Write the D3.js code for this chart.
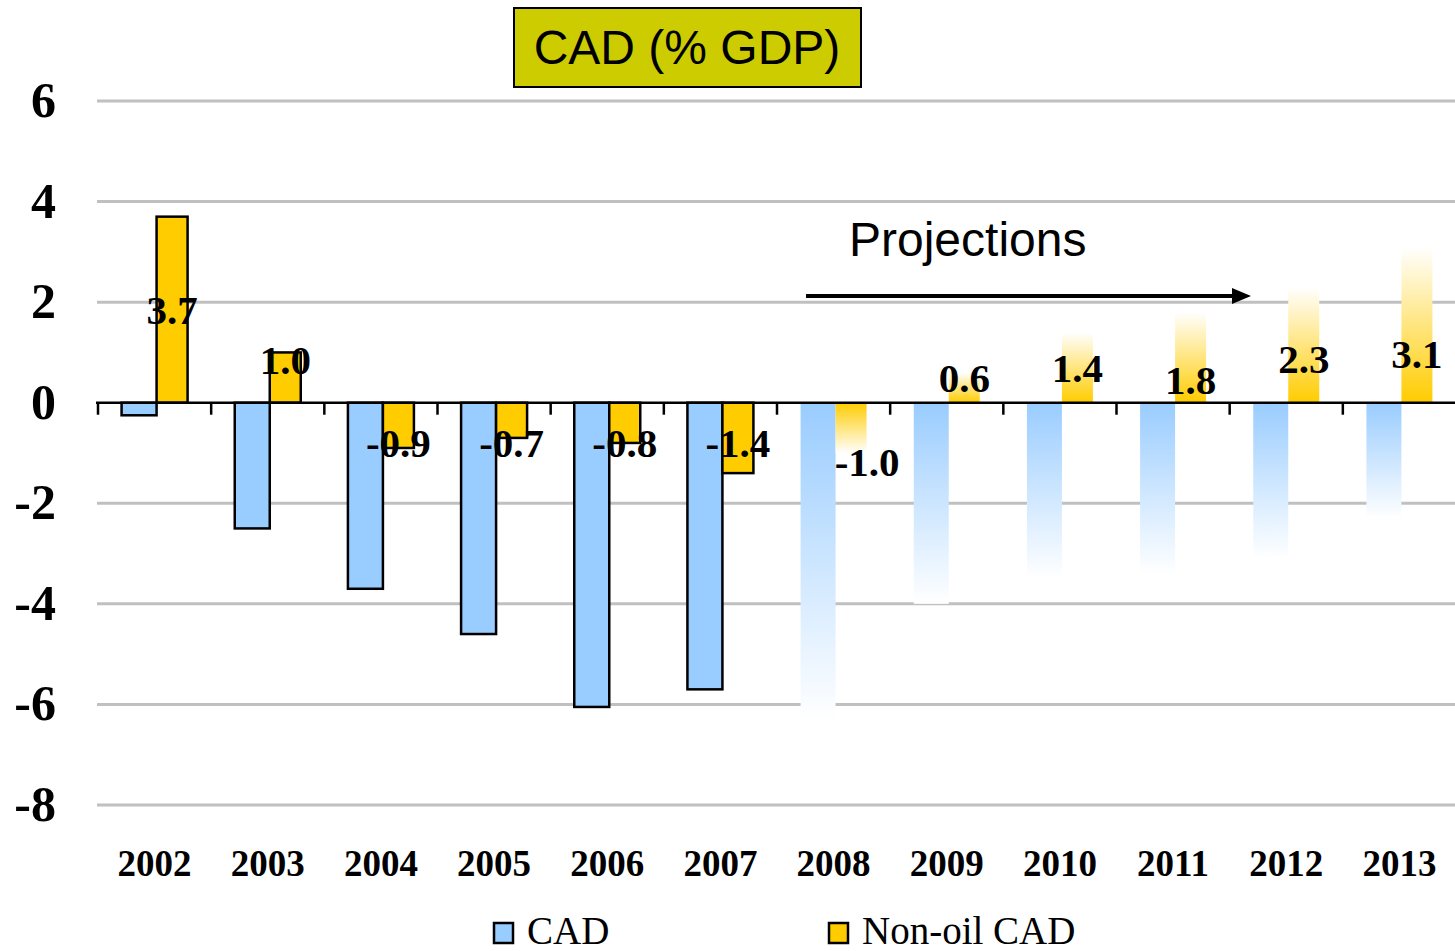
<!DOCTYPE html>
<html>
<head>
<meta charset="utf-8">
<script src="https://cdn.jsdelivr.net/npm/d3@7"></script>
<style>
	body { margin: 0; background: #ffffff; }
	svg { display: block; }
</style>
</head>
<body>
<div id="chart"></div>
<script>
// données
const years = ["2002", "2003", "2004", "2005", "2006", "2007", "2008", "2009", "2010", "2011", "2012", "2013"];
const cad = [-0.25, -2.5, -3.7, -4.6, -6.05, -5.7, -6.3, -4.0, -3.5, -3.4, -3.1, -2.3];
const nonOil = [3.7, 1.0, -0.9, -0.7, -0.8, -1.4, -1.0, 0.6, 1.4, 1.8, 2.3, 3.1];
const nonOilLabels = ["3.7", "1.0", "-0.9", "-0.7", "-0.8", "-1.4", "-1.0", "0.6", "1.4", "1.8", "2.3", "3.1"];
const yTicks = [6, 4, 2, 0, -2, -4, -6, -8];
const firstProjection = "2008";

const width = 1455, height = 951;
const plotLeft = 98, plotRight = 1456, plotTop = 101, plotBottom = 805;

const svg = d3.select("#chart")
	.append("svg")
	.attr("width", width)
	.attr("height", height);

const x = d3.scaleBand()
	.domain(years)
	.range([plotLeft, plotRight])
	.paddingInner(0)
	.paddingOuter(0);

const y = d3.scaleLinear()
	.domain([-8, 6])
	.range([plotBottom, plotTop]);

// largeur des barres (CAD un peu plus large, comme sur l'original)
const cadW = 35, oilW = 31;
const pairStart = d => x(d) + x.bandwidth() / 2 - (cadW + oilW) / 2;

// dégradés pour les projections
const defs = svg.append("defs");
function grad(id, color, fadeDown) {
	const g = defs.append("linearGradient")
		.attr("id", id)
		.attr("x1", 0).attr("x2", 0)
		.attr("y1", 0).attr("y2", 1);
	g.append("stop").attr("offset", "0%").attr("stop-color", fadeDown ? color : "#ffffff");
	g.append("stop").attr("offset", "100%").attr("stop-color", fadeDown ? "#ffffff" : color);
}
grad("blueDown", "#99CCFF", true);
grad("yellowDown", "#FFCC00", true);
grad("yellowUp", "#FFCC00", false);

// grille
svg.append("g")
	.selectAll("line")
	.data(yTicks.filter(d => d !== 0))
	.enter()
	.append("line")
	.attr("x1", 97)
	.attr("x2", width)
	.attr("y1", d => y(d))
	.attr("y2", d => y(d))
	.style("stroke", "#C0C0C0")
	.style("stroke-width", 3);

// étiquettes de l'axe Y
svg.append("g")
	.selectAll("text")
	.data(yTicks)
	.enter()
	.append("text")
	.attr("x", 56)
	.attr("y", d => y(d) + 16)
	.attr("text-anchor", "end")
	.style("font-family", "'Liberation Serif', 'Times New Roman', serif")
	.style("font-weight", "bold")
	.style("font-size", "50px")
	.text(d => d);

const isProj = i => i >= years.indexOf(firstProjection);

// barres CAD
const bars = svg.append("g");
bars.selectAll("rect.cad")
	.data(cad)
	.enter()
	.append("rect")
	.attr("class", "cad")
	.attr("x", (d, i) => pairStart(years[i]))
	.attr("y", d => y(Math.max(0, d)))
	.attr("width", cadW)
	.attr("height", d => Math.abs(y(d) - y(0)))
	.style("fill", (d, i) => isProj(i) ? "url(#blueDown)" : "#99CCFF")
	.style("stroke", (d, i) => isProj(i) ? "none" : "#000")
	.style("stroke-width", 2.5);

// barres Non-oil CAD
bars.selectAll("rect.nonoil")
	.data(nonOil)
	.enter()
	.append("rect")
	.attr("class", "nonoil")
	.attr("x", (d, i) => pairStart(years[i]) + cadW)
	.attr("y", d => y(Math.max(0, d)))
	.attr("width", oilW)
	.attr("height", d => Math.abs(y(d) - y(0)))
	.style("fill", (d, i) => isProj(i) ? (d < 0 ? "url(#yellowDown)" : "url(#yellowUp)") : "#FFCC00")
	.style("stroke", (d, i) => isProj(i) ? "none" : "#000")
	.style("stroke-width", 2.5);

// axe X (ligne du zéro + graduations)
const axis = svg.append("g");
axis.append("line")
	.attr("x1", 96)
	.attr("x2", width)
	.attr("y1", y(0))
	.attr("y2", y(0))
	.style("stroke", "#000")
	.style("stroke-width", 2.5);
axis.selectAll("line.tick")
	.data(d3.range(years.length))
	.enter()
	.append("line")
	.attr("class", "tick")
	.attr("x1", i => x(years[i]))
	.attr("x2", i => x(years[i]))
	.attr("y1", y(0))
	.attr("y2", y(0) + 12)
	.style("stroke", "#000")
	.style("stroke-width", 2.5);

axis.selectAll("text")
	.data(years)
	.enter()
	.append("text")
	.attr("x", d => x(d) + x.bandwidth() / 2)
	.attr("y", 876)
	.attr("text-anchor", "middle")
	.style("font-family", "'Liberation Serif', 'Times New Roman', serif")
	.style("font-weight", "bold")
	.style("font-size", "37px")
	.text(d => d);

// étiquettes de valeurs (placées comme sur l'original)
const labelAt = [1.85, 0.85, -0.8, -0.8, -0.8, -0.8, -1.18, 0.5, 0.7, 0.46, 0.86, 0.96];
const labelDx = [0, 0, 0, 0, 0, 0, 16, 0, 0, 0, 0, 0];
svg.append("g")
	.selectAll("text")
	.data(nonOilLabels)
	.enter()
	.append("text")
	.attr("x", (d, i) => pairStart(years[i]) + cadW + oilW / 2 + labelDx[i])
	.attr("y", (d, i) => y(labelAt[i]) + 14)
	.attr("text-anchor", "middle")
	.style("font-family", "'Liberation Serif', 'Times New Roman', serif")
	.style("font-weight", "bold")
	.style("font-size", "41px")
	.text(d => d);

// titre
svg.append("rect")
	.attr("x", 514)
	.attr("y", 8)
	.attr("width", 347)
	.attr("height", 79)
	.style("fill", "#CCCC00")
	.style("stroke", "#000")
	.style("stroke-width", 2);
svg.append("text")
	.attr("x", 687)
	.attr("y", 64)
	.attr("text-anchor", "middle")
	.style("font-family", "'Liberation Sans', Arial, sans-serif")
	.style("font-size", "48px")
	.text("CAD (% GDP)");

// annotation projections
svg.append("text")
	.attr("x", 849)
	.attr("y", 256)
	.style("font-family", "'Liberation Sans', Arial, sans-serif")
	.style("font-size", "48px")
	.text("Projections");
svg.append("line")
	.attr("x1", 806)
	.attr("x2", 1234)
	.attr("y1", 296)
	.attr("y2", 296)
	.style("stroke", "#000")
	.style("stroke-width", 4);
svg.append("path")
	.attr("d", "M1232,288 L1251,296 L1232,304 Z")
	.style("fill", "#000");

// légende
const legend = [
	{ name: "CAD", color: "#99CCFF", x: 494 },
	{ name: "Non-oil CAD", color: "#FFCC00", x: 829 }
];
const leg = svg.append("g").selectAll("g").data(legend).enter().append("g");
leg.append("rect")
	.attr("x", d => d.x)
	.attr("y", 923)
	.attr("width", 19)
	.attr("height", 20)
	.style("fill", d => d.color)
	.style("stroke", "#000")
	.style("stroke-width", 2.5);
leg.append("text")
	.attr("x", d => d.x + 33)
	.attr("y", 944)
	.style("font-family", "'Liberation Serif', 'Times New Roman', serif")
	.style("font-size", "39px")
	.text(d => d.name);
</script>
</body>
</html>
